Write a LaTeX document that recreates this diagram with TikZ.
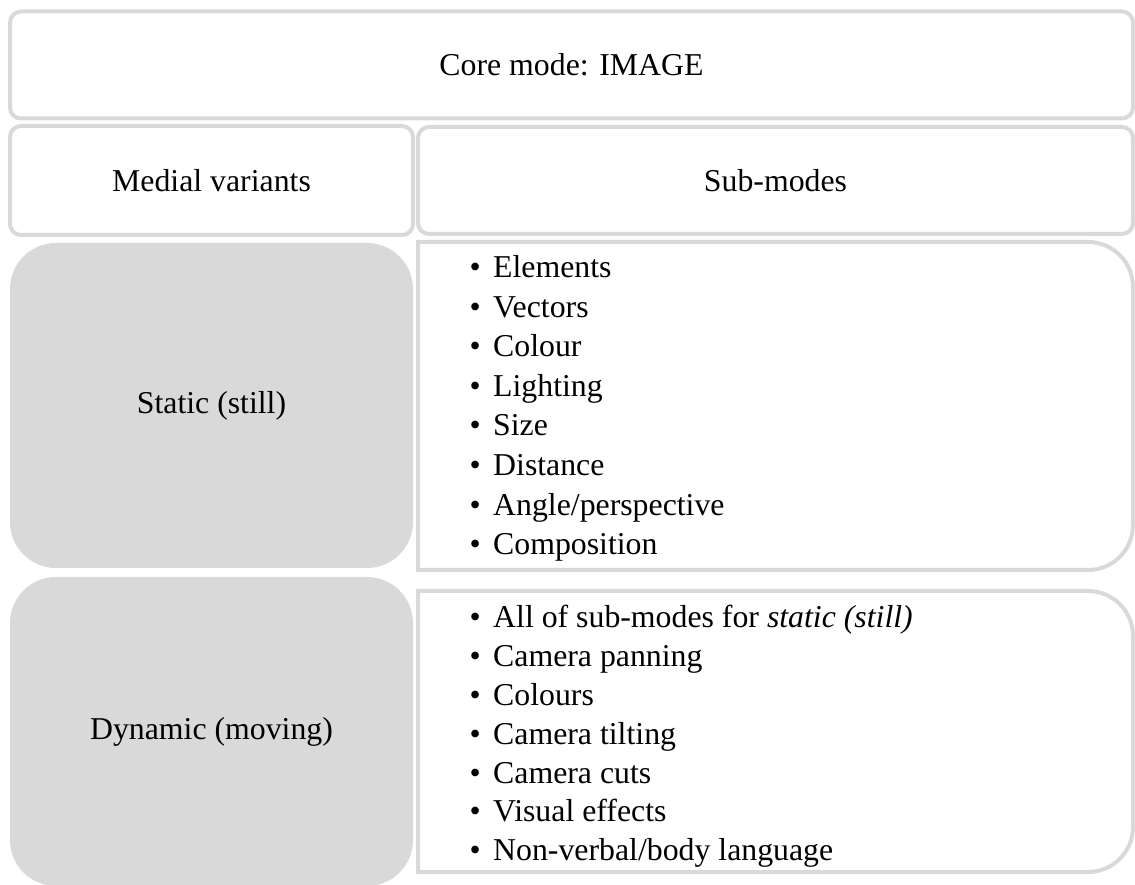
\documentclass[tikz,border=0pt]{standalone}
\usepackage{fontspec}
\setmainfont{Liberation Serif}
\usepackage{xcolor}
\definecolor{cellGray}{HTML}{D9D9D9}
\usepackage{tikz}
\usetikzlibrary{calc}

\newcommand{\tabfont}{\fontsize{31.8pt}{38.5pt}\selectfont}
\newcommand{\bulletitem}{\textbullet\hspace{12.4pt}}

\tikzset{
  cell/.style={draw=cellGray, line width=4pt, rounded corners=11pt, fill=white, inner sep=0pt, font=\tabfont},
  variant/.style={fill=cellGray, rounded corners=46pt, inner sep=0pt, font=\tabfont},
  sublist/.style={anchor=west, align=left, inner sep=0pt, font=\fontsize{31.8pt}{#1}\selectfont},
  listframe/.style={draw=cellGray, line width=4pt},
}

\begin{document}
\begin{tikzpicture}[x=1pt, y=1pt]
  \useasboundingbox (0,0) rectangle (1135,884);
  % ------- header rows -------
  \node[cell, minimum width=1123pt, minimum height=107pt] (core) at (571.5,819) {Core mode: IMAGE};
  \node[cell, minimum width=403pt, minimum height=109pt] (medial) at (211.5,703.5) {Medial variants};
  \node[cell, minimum width=715pt, minimum height=107pt] (submodes) at (775.5,703.5) {Sub-modes};
  % ------- static (still) -------
  \node[variant, minimum width=403pt, minimum height=325pt] (static) at (211.5,478.5) {Static (still)};
  \draw[listframe] (418,642) -- (1088,642) arc[start angle=90, end angle=0, radius=45]
    -- (1133,359) arc[start angle=0, end angle=-90, radius=45] -- (418,314) -- cycle;
  \node[sublist=39.6pt] (staticlist) at (469.5,475.5) {\bulletitem Elements\\ \bulletitem Vectors\\ \bulletitem Colour\\
    \bulletitem Lighting\\ \bulletitem Size\\ \bulletitem Distance\\ \bulletitem Angle/perspective\\ \bulletitem Composition};
  % ------- dynamic (moving) -------
  \node[variant, minimum width=403pt, minimum height=309pt] (dynamic) at (211.5,152.5) {Dynamic (moving)};
  \draw[listframe] (418,293) -- (1088,293) arc[start angle=90, end angle=0, radius=45]
    -- (1133,57) arc[start angle=0, end angle=-90, radius=45] -- (418,12) -- cycle;
  \node[sublist=38.8pt] (dynamiclist) at (469.5,147.5) {\bulletitem All of sub-modes for \textit{static (still)}\\
    \bulletitem Camera panning\\ \bulletitem Colours\\ \bulletitem Camera tilting\\ \bulletitem Camera cuts\\
    \bulletitem Visual effects\\ \bulletitem Non-verbal/body language};
\end{tikzpicture}
\end{document}
